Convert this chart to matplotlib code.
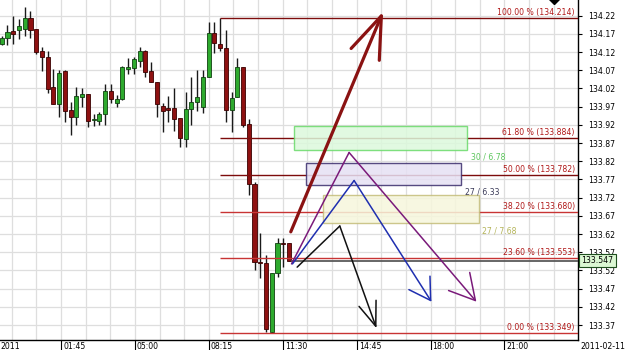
import numpy as np
import matplotlib
matplotlib.use('Agg')
import matplotlib.pyplot as plt
from matplotlib import font_manager
from matplotlib.patches import Rectangle
from matplotlib.transforms import ScaledTranslation, blended_transform_factory

# candles, one per bar from the left edge of the chart
opens = [134.142, 134.159, 134.178, 134.181, 134.183, 134.214, 134.183, 134.123, 134.107, 134.024,
         133.977, 134.068, 133.961, 133.942, 133.997, 134.005, 133.933, 133.931, 133.950, 134.013,
         133.980, 133.991, 134.074, 134.076, 134.096, 134.123, 134.068, 134.037, 133.972, 133.966,
         133.966, 133.938, 133.880, 133.963, 133.982, 133.970, 134.052, 134.172, 134.142, 134.132,
         133.961, 133.997, 134.080, 133.922, 133.757, 133.544, 133.540, 133.352, 133.512, 133.595,
         133.595]
highs = [134.164, 134.194, 134.219, 134.211, 134.244, 134.233, 134.183, 134.134, 134.123, 134.074,
         134.071, 134.071, 133.983, 134.024, 134.021, 134.005, 133.950, 133.955, 134.032, 134.032,
         134.002, 134.082, 134.104, 134.107, 134.134, 134.126, 134.093, 134.037, 133.979, 134.000,
         134.020, 133.938, 134.011, 134.052, 134.071, 134.071, 134.203, 134.203, 134.214, 134.181,
         134.011, 134.105, 134.080, 133.936, 133.764, 133.623, 133.562, 133.513, 133.609, 133.610,
         133.595]
lows = [134.139, 134.139, 134.142, 134.156, 134.164, 134.159, 134.115, 134.068, 134.008, 133.977,
        133.942, 133.928, 133.892, 133.920, 133.969, 133.914, 133.917, 133.920, 133.920, 133.980,
        133.969, 133.988, 134.060, 134.060, 134.079, 134.052, 134.038, 133.941, 133.901, 133.929,
        133.904, 133.858, 133.858, 133.920, 133.959, 133.953, 134.052, 134.117, 134.123, 133.929,
        133.901, 133.997, 133.914, 133.727, 133.521, 133.499, 133.352, 133.349, 133.503, 133.530,
        133.547]
closes = [134.160, 134.175, 134.170, 134.192, 134.214, 134.181, 134.120, 134.107, 134.019, 133.977,
          134.063, 133.958, 133.942, 134.000, 134.005, 133.931, 133.935, 133.950, 134.013, 133.991,
          133.991, 134.079, 134.079, 134.101, 134.123, 134.065, 134.038, 133.977, 133.959, 133.961,
          133.935, 133.883, 133.963, 133.982, 133.996, 134.052, 134.172, 134.145, 134.131, 133.961,
          133.995, 134.080, 133.920, 133.757, 133.544, 133.540, 133.359, 133.513, 133.596, 133.592,
          133.547]

last_price = 133.547

# fibonacci retracement drawn from the swing high (bar 38)
fib_start = 38
fib_pct = ['100.00', '61.80', '50.00', '38.20', '23.60', '0.00']
fib_price = [134.214, 133.884, 133.782, 133.680, 133.553, 133.349]

# time axis labels (every third grid line)
grid_labels = {2: '01:45', 5: '05:00', 8: '08:15', 11: '11:30', 14: '14:45', 17: '18:00', 20: '21:00'}
y_ticks = [133.37, 133.42, 133.47, 133.52, 133.57, 133.62, 133.67, 133.72, 133.77, 133.82,
           133.87, 133.92, 133.97, 134.02, 134.07, 134.12, 134.17, 134.22]

# target zones
zone_x0 = [50.9, 52.9, 55.9]
zone_x1 = [81.0, 80.0, 83.1]
zone_lo = [133.851, 133.754, 133.649]
zone_hi = [133.918, 133.816, 133.727]
zone_labels = ['30 / 6.78', '27 / 6.33', '27 / 7.68']
zone_label_x = [81.6, 80.6, 83.5]
zone_label_y = [133.832, 133.736, 133.629]

# projected moves (bar, price) : start -> pivot -> target
move_red_x = [50.3, 66.37]
move_red_y = [133.626, 134.231]
move_purple_x = [50.43, 60.45, 82.6]
move_purple_y = [133.538, 133.844, 133.434]
move_blue_x = [50.6, 61.32, 74.78]
move_blue_y = [133.538, 133.767, 133.434]
move_black_x = [51.41, 58.83, 65.22]
move_black_y = [133.529, 133.642, 133.361]

# narrow font if there is one
plt.rcParams['font.family'] = 'DejaVu Sans'
fstretch = 'normal'
fs = 5.7
names = {f.name for f in font_manager.fontManager.ttflist}
cond = [f for f in font_manager.fontManager.ttflist
        if f.name == 'DejaVu Sans' and f.stretch == 'condensed']
if 'Liberation Sans Narrow' in names:
    plt.rcParams['font.family'] = 'Liberation Sans Narrow'
    fs = 6.7
elif cond:
    fstretch = 'condensed'
    fs = 6.2
plt.rcParams['font.stretch'] = fstretch

fig = plt.figure(figsize=(6.25, 3.5), dpi=100)
ax = fig.add_axes([0, 10 / 350, 578 / 625, 340 / 350])
xmin, xmax = -0.296, 100.28
ax.set_xlim(xmin, xmax)
ax.set_ylim(133.3288, 134.2631)

# grid
grid_x = 1.739 + 4.287 * np.arange(23)
for gx in grid_x:
    ax.axvline(gx, color='#dedede', lw=0.9, zorder=0)
for gy in y_ticks:
    ax.axhline(gy, color='#dedede', lw=0.9, zorder=0)

# candles
o = np.array(opens); c = np.array(closes)
idx = np.arange(len(opens))
up = c >= o
ax.vlines(idx, lows, highs, color='#1a1a1a', lw=1.0, zorder=2)
heights = np.maximum(np.abs(c - o), 0.0015)
ax.bar(idx[up], heights[up], bottom=np.minimum(o, c)[up], width=0.72,
       color='#2eaa2e', edgecolor='#104010', lw=0.6, zorder=3)
ax.bar(idx[~up], heights[~up], bottom=np.minimum(o, c)[~up], width=0.72,
       color='#8e1111', edgecolor='#3a0000', lw=0.6, zorder=3)

# fib levels
for pct, p in zip(fib_pct, fib_price):
    col = '#7d0c0c' if float(pct) >= 50 else '#c83434'
    ax.hlines(p, fib_start, xmax, color=col, lw=1.0, zorder=4)
    ax.annotate('%s %% (%.3f)' % (pct, p), xy=(99.7, p), xytext=(0, 0.8),
                textcoords='offset points', ha='right', va='bottom',
                color='#b01818', fontsize=fs, zorder=6)

# current price line
ax.hlines(last_price, 50.4, xmax, color='#5a5a5a', lw=1.3, zorder=4)

# zones
zone_face = ['#dcf9dc', '#e6e1f4', '#f6f6dc']
zone_edge = ['#6ada6a', '#3a2c6c', '#c4bd7a']
zone_text = ['#5cc65c', '#3c3c5a', '#b4b45a']
for i in range(3):
    ax.add_patch(Rectangle((zone_x0[i], zone_lo[i]), zone_x1[i] - zone_x0[i],
                           zone_hi[i] - zone_lo[i], facecolor=zone_face[i],
                           edgecolor=zone_edge[i], lw=1.0, alpha=0.85, zorder=5))
    ax.text(zone_label_x[i], zone_label_y[i], zone_labels[i], color=zone_text[i],
            fontsize=fs, ha='left', va='center', zorder=6)


# arrows
def move(xs, ys, color, lw, hl, hw):
    if len(xs) > 2:
        ax.plot(xs[:-1], ys[:-1], color=color, lw=lw, solid_capstyle='round', zorder=7)
    ax.annotate('', xy=(xs[-1], ys[-1]), xytext=(xs[-2], ys[-2]),
                arrowprops=dict(arrowstyle='->,head_length=%g,head_width=%g' % (hl, hw),
                                color=color, lw=lw, shrinkA=0, shrinkB=0, mutation_scale=1),
                zorder=7)


move(move_red_x, move_red_y, '#8a1212', 2.3, 30, 11)
move(move_purple_x, move_purple_y, '#7a1a7a', 1.1, 18, 10)
move(move_blue_x, move_blue_y, '#1f2fb0', 1.1, 15, 9)
move(move_black_x, move_black_y, '#111111', 1.1, 17.5, 6.5)

# axes styling
for s in ['left', 'top']:
    ax.spines[s].set_visible(False)
ax.spines['right'].set_linewidth(1.0)
ax.spines['bottom'].set_linewidth(1.0)

ax.yaxis.tick_right()
ax.set_yticks(y_ticks)
ax.set_yticklabels(['%.2f' % v for v in y_ticks])
ax.tick_params(axis='y', direction='out', length=3, pad=4, labelsize=fs, width=0.8)
ax.annotate('134.27', xy=(1, 134.27), xycoords=('axes fraction', 'data'),
            xytext=(7, 0), textcoords='offset points', ha='left', va='center',
            fontsize=fs, annotation_clip=False)

ax.set_xticks([grid_x[k] for k in grid_labels])
ax.set_xticklabels([])
ax.tick_params(axis='x', direction='out', length=7, width=0.8)
tb = blended_transform_factory(ax.transData, ax.transAxes)
shift = ScaledTranslation(1.5 / 72, -1.5 / 72, fig.dpi_scale_trans)
for k, lbl in grid_labels.items():
    ax.text(grid_x[k], 0, lbl, transform=tb + shift, ha='left', va='top', fontsize=fs)
ax.text(0, 0, '2011', transform=ax.transAxes + ScaledTranslation(0, -1.5 / 72, fig.dpi_scale_trans),
        ha='left', va='top', fontsize=fs)
ax.text(1, 0, '2011-02-11', transform=ax.transAxes + ScaledTranslation(2 / 72, -1.5 / 72, fig.dpi_scale_trans),
        ha='left', va='top', fontsize=fs)

# last price tag
ax.annotate('%.3f' % last_price, xy=(1, last_price), xycoords=('axes fraction', 'data'),
            xytext=(2.5, 0), textcoords='offset points', ha='left', va='center', fontsize=fs,
            bbox=dict(boxstyle='square,pad=0.25', fc='#dbf7d3', ec='#1e4e1e', lw=0.8),
            annotation_clip=False, zorder=8)

# handle marker at the top edge
ax.plot([96.05], [134.265], marker='D', color='black', ms=5, clip_on=False, zorder=8)

fig.savefig('out.png', dpi=100)
